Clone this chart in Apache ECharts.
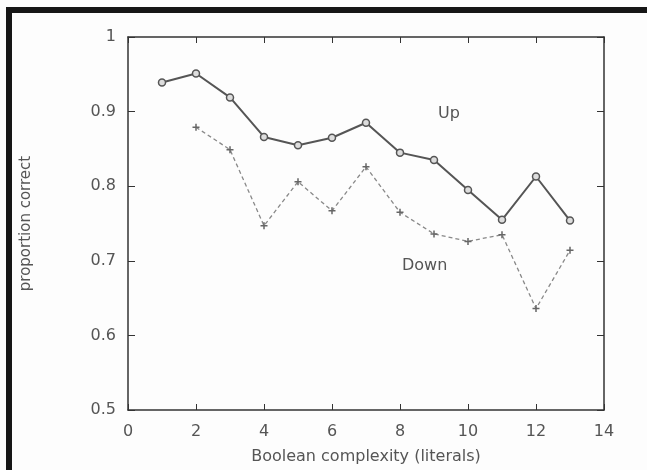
<!DOCTYPE html>
<html>
<head>
<meta charset="utf-8">
<script src="https://cdn.jsdelivr.net/npm/echarts@6/dist/echarts.min.js"></script>
<style>
  html, body { margin: 0; padding: 0; background: #fff; }
  #chart { width: 647px; height: 470px; }
</style>
</head>
<body>
<div id="chart"></div>
<script>
// values
var upX = [1, 2, 3, 4, 5, 6, 7, 8, 9, 10, 11, 12, 13];
var upY = [0.939, 0.951, 0.919, 0.866, 0.855, 0.865, 0.885, 0.845, 0.835, 0.795, 0.755, 0.813, 0.754];
var downX = [2, 3, 4, 5, 6, 7, 8, 9, 10, 11, 12, 13];
var downY = [0.879, 0.849, 0.747, 0.806, 0.767, 0.826, 0.765, 0.736, 0.726, 0.735, 0.636, 0.714];
var xTicks = [0, 2, 4, 6, 8, 10, 12, 14];

function pairs(xs, ys) {
  var out = [];
  for (var i = 0; i < xs.length; i++) out.push([xs[i], ys[i]]);
  return out;
}

var font = 'DejaVu Sans, Liberation Sans, sans-serif';
var axisCol = '#333';
var textCol = '#555';

var myChart = echarts.init(document.getElementById('chart'));
var option = {
  backgroundColor: '#fdfdfd',
  animation: false,
  grid: { left: 128, right: 43, top: 37, bottom: 55 },
  graphic: [
    { type: 'rect', shape: { x: 6, y: 7, width: 641, height: 6 }, style: { fill: '#161616' } },
    { type: 'rect', shape: { x: 6, y: 7, width: 6, height: 463 }, style: { fill: '#161616' } },
    { type: 'text', left: 438, top: 106, style: { text: 'Up', fill: textCol, font: '16px ' + font } },
    { type: 'text', left: 402, top: 258, style: { text: 'Down', fill: textCol, font: '16px ' + font } }
  ],
  xAxis: [{
    type: 'value', min: 0, max: 14, interval: 2,
    name: 'Boolean complexity (literals)', nameLocation: 'middle', nameGap: 39,
    nameTextStyle: { color: textCol, fontSize: 16, fontFamily: font },
    axisLine: { show: true, onZero: false, lineStyle: { color: axisCol, width: 1.5 } },
    axisTick: { show: true, inside: true, length: 6, lineStyle: { color: axisCol } },
    axisLabel: { color: textCol, fontSize: 16, fontFamily: font, margin: 14,
      customValues: xTicks },
    splitLine: { show: false }
  }, {
    type: 'value', min: 0, max: 14, interval: 2, position: 'top',
    axisLine: { show: true, onZero: false, lineStyle: { color: axisCol, width: 1.5 } },
    axisTick: { show: true, inside: true, length: 6, lineStyle: { color: axisCol } },
    axisLabel: { show: false },
    splitLine: { show: false }
  }],
  yAxis: [{
    type: 'value', min: 0.5, max: 1, interval: 0.1,
    name: 'proportion correct', nameLocation: 'middle', nameGap: 94, nameRotate: 90,
    nameTextStyle: { color: textCol, fontSize: 15, fontFamily: font },
    axisLine: { show: true, onZero: false, lineStyle: { color: axisCol, width: 1.5 } },
    axisTick: { show: true, inside: true, length: 7, lineStyle: { color: axisCol } },
    axisLabel: { color: textCol, fontSize: 16, fontFamily: font, margin: 12,
      formatter: function (v) { return String(Math.round(v * 10) / 10); } },
    splitLine: { show: false }
  }, {
    type: 'value', min: 0.5, max: 1, interval: 0.1, position: 'right',
    axisLine: { show: true, onZero: false, lineStyle: { color: axisCol, width: 1.5 } },
    axisTick: { show: true, inside: true, length: 7, lineStyle: { color: axisCol } },
    axisLabel: { show: false },
    splitLine: { show: false }
  }],
  series: [{
    name: 'Up', type: 'line',
    data: pairs(upX, upY),
    symbol: 'circle', symbolSize: 7,
    itemStyle: { color: '#ddd', borderColor: '#555', borderWidth: 1.5 },
    lineStyle: { color: '#555', width: 2 }
  }, {
    name: 'Down', type: 'line',
    data: pairs(downX, downY),
    symbol: 'path://M-1,0H1M0,-1V1', symbolSize: 7,
    itemStyle: { color: '#666', borderColor: '#666', borderWidth: 1.5 },
    lineStyle: { color: '#888', width: 1.3, type: [4, 3] }
  }]
};
myChart.setOption(option);
</script>
</body>
</html>
